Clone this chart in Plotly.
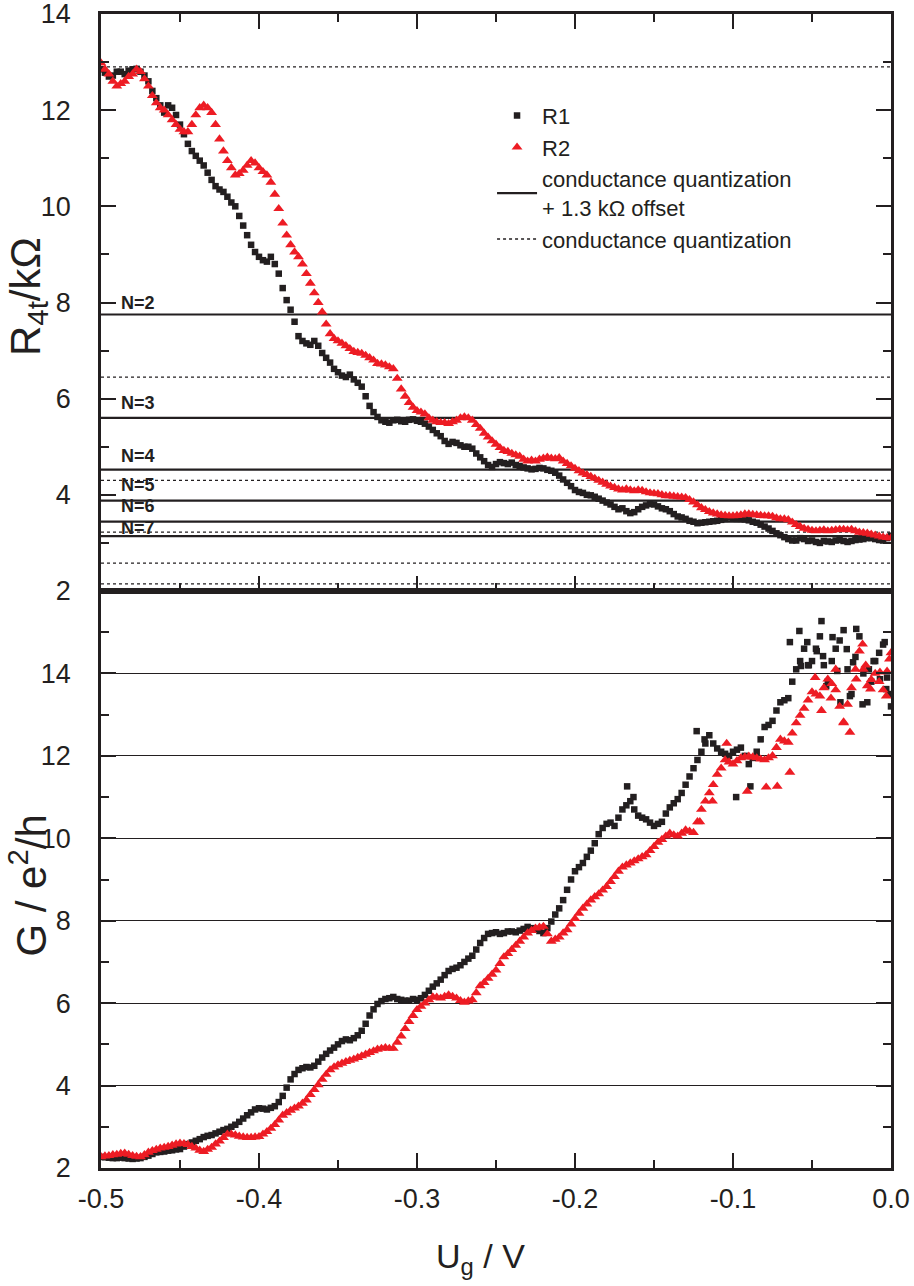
import plotly.graph_objects as go

# ---------------- data ----------------
x_ug = [round(-0.5 + 0.005 * i, 3) for i in range(101)]
x_mid = [round(-0.4975 + 0.005 * i, 4) for i in range(100)]

R1 = [12.85, 12.7, 12.8, 12.75, 12.85, 12.8, 12.6, 12.25, 11.95, 12.05,
      11.7, 11.3, 11.05, 10.85, 10.55, 10.35, 10.2, 10.0, 9.6, 9.2,
      8.95, 8.85, 8.8, 8.3, 7.85, 7.3, 7.15, 7.2, 6.95, 6.75,
      6.55, 6.45, 6.4, 6.25, 5.85, 5.62, 5.52, 5.55, 5.53, 5.56,
      5.54, 5.48, 5.35, 5.22, 5.06, 5.08, 5.0, 4.96, 4.78, 4.62,
      4.64, 4.66, 4.67, 4.6, 4.55, 4.54, 4.55, 4.5, 4.4, 4.25,
      4.1, 4.04, 3.99, 3.92, 3.84, 3.75, 3.72, 3.62, 3.7, 3.78,
      3.8, 3.72, 3.66, 3.55, 3.5, 3.44, 3.42, 3.44, 3.46, 3.5,
      3.52, 3.5, 3.47, 3.42, 3.34, 3.25, 3.16, 3.08, 3.05, 3.08,
      3.05, 3.0, 3.03, 3.05, 3.04, 3.04, 3.07, 3.1, 3.08, 3.05,
      3.15]
R1_mid = [12.78, 12.72, 12.8, 12.82, 12.86, 12.72, 12.4, 12.1, 12.1, 11.9,
          11.5, 11.15, 10.95, 10.7, 10.42, 10.3, 10.08, 9.8, 9.4, 9.05,
          8.88, 8.95, 8.6, 8.05, 7.6, 7.2, 7.12, 7.1, 6.85, 6.62,
          6.48, 6.5, 6.33, 6.05, 5.72, 5.55, 5.5, 5.56, 5.52, 5.57,
          5.52, 5.42, 5.28, 5.12, 5.1, 5.03, 5.0, 4.86, 4.7, 4.58,
          4.68, 4.64, 4.62, 4.57, 4.53, 4.56, 4.52, 4.46, 4.32, 4.18,
          4.06, 4.0, 3.96, 3.88, 3.8, 3.7, 3.66, 3.64, 3.75, 3.81,
          3.76, 3.7, 3.6, 3.53, 3.46, 3.41, 3.43, 3.45, 3.48, 3.53,
          3.5, 3.49, 3.44, 3.38, 3.3, 3.2, 3.12, 3.05, 3.1, 3.04,
          3.02, 3.04, 3.02, 3.06, 3.02, 3.06, 3.08, 3.1, 3.06, 3.1]

R2 = [12.98, 12.75, 12.5, 12.6, 12.75, 12.8, 12.5, 12.15, 12.0, 11.8,
      11.6, 11.55, 11.9, 12.1, 11.95, 11.4, 10.95, 10.65, 10.75, 10.95,
      10.8, 10.65, 10.25, 9.65, 9.2, 8.95, 8.6, 8.2, 7.8, 7.35,
      7.2, 7.1, 6.98, 6.94, 6.85, 6.73, 6.7, 6.62, 6.2, 5.92,
      5.75, 5.68, 5.55, 5.5, 5.48, 5.55, 5.62, 5.55, 5.38, 5.2,
      5.05, 4.92, 4.86, 4.8, 4.7, 4.7, 4.76, 4.76, 4.77, 4.65,
      4.55, 4.45, 4.38, 4.3, 4.22, 4.15, 4.1, 4.1, 4.1, 4.06,
      4.03, 4.0, 3.98, 3.96, 3.94, 3.85, 3.73, 3.65, 3.6, 3.57,
      3.56, 3.58, 3.6, 3.58, 3.56, 3.55, 3.5, 3.48, 3.38, 3.3,
      3.26, 3.26, 3.25, 3.27, 3.28, 3.28, 3.22, 3.2, 3.16, 3.12,
      3.1]
R2_mid = [12.85, 12.6, 12.55, 12.7, 12.85, 12.65, 12.3, 12.05, 11.9, 11.7,
          11.55, 11.7, 12.05, 12.05, 11.7, 11.15, 10.8, 10.68, 10.85, 10.9,
          10.72, 10.5, 9.95, 9.4, 9.05, 8.8, 8.4, 8.0, 7.55, 7.25,
          7.15, 7.04, 6.96, 6.9, 6.8, 6.72, 6.66, 6.42, 6.05, 5.82,
          5.72, 5.6, 5.52, 5.5, 5.52, 5.6, 5.6, 5.46, 5.28, 5.12,
          4.98, 4.9, 4.83, 4.74, 4.72, 4.74, 4.78, 4.75, 4.7, 4.6,
          4.5, 4.42, 4.34, 4.26, 4.18, 4.12, 4.12, 4.08, 4.09, 4.04,
          4.02, 3.98, 3.97, 3.95, 3.9, 3.79, 3.69, 3.62, 3.58, 3.56,
          3.57, 3.6, 3.59, 3.57, 3.56, 3.52, 3.5, 3.43, 3.34, 3.28,
          3.25, 3.27, 3.26, 3.28, 3.27, 3.25, 3.21, 3.18, 3.14, 3.11]

G1 = [2.27, 2.25, 2.24, 2.24, 2.22, 2.24, 2.3, 2.38, 2.4, 2.43,
      2.46, 2.58, 2.66, 2.75, 2.8, 2.88, 2.95, 3.05, 3.2, 3.35,
      3.45, 3.42, 3.5, 3.75, 4.15, 4.38, 4.45, 4.48, 4.68, 4.85,
      5.0, 5.12, 5.15, 5.33, 5.7, 5.98, 6.1, 6.15, 6.08, 6.06,
      6.08, 6.2, 6.4, 6.57, 6.78, 6.86, 7.0, 7.15, 7.46, 7.68,
      7.72, 7.7, 7.74, 7.76, 7.85, 7.8, 7.7, 7.98, 8.3, 8.75,
      9.2, 9.4, 9.7, 10.1, 10.35, 10.3, 10.7, 10.9, 10.55, 10.46,
      10.3, 10.4, 10.75, 10.95, 11.3, 11.7, 12.1, 12.5, 12.18, 12.05,
      12.1, 12.2, 11.8, 12.1, 12.7, 12.85, 13.3, 13.4, 14.1, 14.6,
      14.3, 14.9, 13.8, 14.6, 15.05, 13.5, 14.9, 13.3, 14.3, 14.7,
      13.2]
G1_mid = [2.26, 2.24, 2.25, 2.23, 2.23, 2.27, 2.34, 2.39, 2.42, 2.45,
          2.52, 2.62, 2.7, 2.78, 2.84, 2.92, 3.0, 3.12, 3.28, 3.42,
          3.44, 3.46, 3.6, 3.95, 4.28, 4.42, 4.44, 4.58, 4.77, 4.92,
          5.08, 5.1, 5.22, 5.5, 5.85, 6.05, 6.12, 6.1, 6.06, 6.1,
          6.12, 6.3, 6.48, 6.68, 6.83, 6.92, 7.08, 7.3, 7.58, 7.7,
          7.68, 7.74, 7.72, 7.8, 7.82, 7.75, 7.82, 8.15, 8.5, 9.0,
          9.3, 9.55, 9.88, 10.25, 10.38, 10.5, 10.8, 10.7, 10.5, 10.38,
          10.35, 10.6, 10.85, 11.1, 11.5, 11.9, 12.3, 12.3, 12.1, 12.0,
          12.15, 12.0, 11.95, 12.4, 12.75, 13.1, 13.35, 13.8, 14.3, 14.2,
          14.6, 14.2, 14.3, 14.8, 14.1, 14.4, 14.0, 13.8, 14.5, 13.9]

G2 = [2.27, 2.3, 2.33, 2.36, 2.3, 2.27, 2.38, 2.45, 2.5, 2.55,
      2.6, 2.57, 2.48, 2.4, 2.5, 2.65, 2.82, 2.8, 2.75, 2.74,
      2.76, 2.88, 3.05, 3.28, 3.4, 3.5, 3.65, 3.9, 4.15, 4.38,
      4.5, 4.58, 4.64, 4.72, 4.8, 4.88, 4.92, 4.9, 5.2, 5.55,
      5.84, 6.0, 6.15, 6.12, 6.2, 6.12, 6.02, 6.08, 6.42, 6.6,
      6.8, 7.12, 7.3, 7.5, 7.7, 7.82, 7.86, 7.5, 7.6, 7.78,
      8.05, 8.3, 8.5, 8.65, 8.83, 9.07, 9.3, 9.4, 9.5, 9.6,
      9.8, 9.97, 10.12, 10.05, 10.2, 10.14, 10.7, 11.1, 11.55, 11.9,
      11.8, 11.95, 11.99, 11.95, 11.9, 12.0, 12.4, 12.33, 12.8, 13.15,
      13.55, 13.45, 13.86, 13.6, 12.8, 13.65, 14.54, 13.7, 14.0, 13.6,
      14.5]
G2_mid = [2.29, 2.32, 2.35, 2.33, 2.28, 2.32, 2.42, 2.48, 2.52, 2.58,
          2.59, 2.52, 2.43, 2.45, 2.58, 2.74, 2.82, 2.77, 2.74, 2.75,
          2.82, 2.96, 3.16, 3.34, 3.45, 3.57, 3.78, 4.02, 4.27, 4.45,
          4.54, 4.61, 4.68, 4.76, 4.84, 4.9, 4.9, 5.05, 5.38, 5.7,
          5.92, 6.08, 6.14, 6.16, 6.16, 6.06, 6.05, 6.25, 6.5, 6.7,
          6.96, 7.2, 7.4, 7.6, 7.76, 7.84, 7.68, 7.55, 7.7, 7.92,
          8.18, 8.4, 8.58, 8.74, 8.95, 9.2, 9.35, 9.45, 9.55, 9.7,
          9.9, 10.05, 10.08, 10.12, 10.17, 10.4, 10.9, 11.3, 11.7, 11.85,
          11.88, 11.97, 11.97, 11.92, 11.95, 12.2, 12.36, 12.55, 12.98, 13.35,
          13.5, 13.65, 13.75, 13.2, 13.25, 14.1, 14.1, 13.85, 13.8, 14.05]

# additional scattered points in the noisy region of the conductance panel
G1_extra_x = [-0.167, -0.163, -0.098, -0.089, -0.123, -0.118, -0.064, -0.058,
              -0.053, -0.047, -0.044, -0.041, -0.037, -0.032, -0.026, -0.022,
              -0.018, -0.011, -0.007, -0.004, -0.003, -0.057, -0.052, -0.043,
              -0.034, -0.028, -0.024, -0.014, -0.001]
G1_extra = [11.26, 11.0, 11.0, 11.26, 12.6, 12.4, 14.76, 15.03,
            14.76, 14.54, 15.27, 13.69, 14.88, 13.3, 13.45, 15.08,
            13.25, 14.3, 13.86, 14.76, 13.62, 14.18, 14.2, 14.42,
            14.06, 14.59, 14.27, 14.1, 13.5]

G2_extra_x = [-0.104, -0.091, -0.079, -0.072, -0.064, -0.044, -0.038, -0.030,
              -0.026, -0.022, -0.018, -0.013, -0.007, -0.003, -0.001, -0.048,
              -0.035, -0.016, -0.121, -0.113]
G2_extra = [12.3, 11.14, 11.24, 11.26, 11.6, 13.1, 13.4, 12.82,
            12.57, 13.86, 14.71, 13.62, 14.03, 13.45, 14.35, 13.9,
            14.1, 14.2, 10.4, 10.9]

quant_levels = [12.9, 6.45, 4.3, 3.225, 2.58, 2.15]          # h/(2e^2 N), N=1..6
offset_levels = [7.75, 5.6, 4.525, 3.88, 3.443, 3.143]       # + 1.3 kOhm, N=2..7
offset_labels = ["N=2", "N=3", "N=4", "N=5", "N=6", "N=7"]
offset_label_y = [8.0, 5.92, 4.81, 4.2, 3.76, 3.3]

x_tickvals = [-0.5, -0.4, -0.3, -0.2, -0.1, 0.0]
x_ticktext = ["-0.5", "-0.4", "-0.3", "-0.2", "-0.1", "0.0"]

BLACK = "#231f20"
RED = "#ed1c24"
FONT = "Liberation Sans, Arial, sans-serif"


def hlines(levels):
    xs, ys = [], []
    for v in levels:
        xs += [-0.5, 0.0, None]
        ys += [v, v, None]
    return xs, ys


fig = go.Figure()

xs, ys = hlines(offset_levels)
fig.add_trace(go.Scatter(x=xs, y=ys, mode="lines", xaxis="x", yaxis="y",
                         line=dict(color=BLACK, width=2.2),
                         name="conductance quantization<br>+ 1.3 kΩ offset",
                         legendrank=3))
xs, ys = hlines(quant_levels)
fig.add_trace(go.Scatter(x=xs, y=ys, mode="lines", xaxis="x", yaxis="y",
                         line=dict(color=BLACK, width=1.3, dash="dot"),
                         name="conductance quantization", legendrank=4))

SQ = dict(symbol="square", size=6.5, color=BLACK)
TRI = dict(symbol="triangle-up", size=9.5, color=RED)

fig.add_trace(go.Scatter(x=x_ug + x_mid, y=R1 + R1_mid, mode="markers",
                         xaxis="x", yaxis="y", marker=SQ, name="R1", legendrank=1))
fig.add_trace(go.Scatter(x=x_ug + x_mid, y=R2 + R2_mid, mode="markers",
                         xaxis="x", yaxis="y", marker=TRI, name="R2", legendrank=2))

fig.add_trace(go.Scatter(x=x_ug + x_mid + G1_extra_x, y=G1 + G1_mid + G1_extra,
                         mode="markers", xaxis="x2", yaxis="y2", marker=SQ,
                         showlegend=False))
fig.add_trace(go.Scatter(x=x_ug + x_mid + G2_extra_x, y=G2 + G2_mid + G2_extra,
                         mode="markers", xaxis="x2", yaxis="y2", marker=TRI,
                         showlegend=False))

for lab, yy in zip(offset_labels, offset_label_y):
    fig.add_annotation(x=-0.488, y=yy, xref="x", yref="y", text="<b>%s</b>" % lab,
                       showarrow=False, xanchor="left", yanchor="middle",
                       borderpad=0,
                       font=dict(size=18, color=BLACK, family=FONT))

axis_common = dict(showline=True, linecolor=BLACK, linewidth=2.5, ticks="inside",
                   tickcolor=BLACK, tickwidth=2.2, ticklen=15, zeroline=False,
                   showgrid=False, automargin=False, ticklabeloverflow="allow")
minor_common = dict(ticks="inside", ticklen=8, tickwidth=2.2, tickcolor=BLACK)

fig.update_layout(
    width=914, height=1286,
    margin=dict(l=101, r=23, t=14, b=118, autoexpand=False),
    paper_bgcolor="white", plot_bgcolor="white",
    font=dict(family=FONT, color=BLACK, size=26),
    showlegend=True,
    legend=dict(x=0.495, y=0.93, xanchor="left", yanchor="top",
                bgcolor="rgba(0,0,0,0)", font=dict(size=22, family=FONT),
                tracegroupgap=0, itemwidth=40),
    xaxis=dict(domain=[0, 1], anchor="y", range=[-0.5, 0], showticklabels=False,
               tickvals=x_tickvals, mirror="ticks",
               minor=dict(tickvals=[-0.45, -0.35, -0.25, -0.15, -0.05], **minor_common),
               **axis_common),
    yaxis=dict(domain=[0.5, 1], anchor="x", range=[2, 14],
               tickvals=[2, 4, 6, 8, 10, 12, 14], mirror="ticks",
               tickfont=dict(size=27), ticklabelstandoff=22,
               minor=dict(tickvals=[3, 5, 7, 9, 11, 13], **minor_common),
               **axis_common),
    xaxis2=dict(domain=[0, 1], anchor="y2", range=[-0.5, 0], matches="x",
                tickvals=x_tickvals, ticktext=x_ticktext, mirror=True,
                tickfont=dict(size=27), ticklabelstandoff=5,
                minor=dict(tickvals=[-0.45, -0.35, -0.25, -0.15, -0.05], **minor_common),
                **axis_common),
    yaxis2=dict(domain=[0, 0.5], anchor="x2", range=[2, 16],
                tickvals=[2, 4, 6, 8, 10, 12, 14], mirror="ticks",
                tickfont=dict(size=27), ticklabelstandoff=22,
                minor=dict(tickvals=[3, 5, 7, 9, 11, 13, 15], **minor_common),
                **{**axis_common, "showgrid": True, "gridcolor": BLACK, "gridwidth": 1}),
)

fig.add_annotation(x=-0.092, y=0.755, xref="paper", yref="paper", text="R<sub>4t</sub>/kΩ",
                   xanchor="center", yanchor="middle",
                   textangle=-90, showarrow=False, font=dict(size=42, family=FONT))
fig.add_annotation(x=-0.092, y=0.245, xref="paper", yref="paper", text="G / e<sup>2</sup>/h",
                   xanchor="center", yanchor="middle",
                   textangle=-90, showarrow=False, font=dict(size=42, family=FONT))
fig.add_annotation(x=0.48, y=-0.078, xref="paper", yref="paper", text="U<sub>g</sub> / V",
                   xanchor="center", yanchor="middle",
                   showarrow=False, font=dict(size=34, family=FONT))

fig.write_html("out.html")
